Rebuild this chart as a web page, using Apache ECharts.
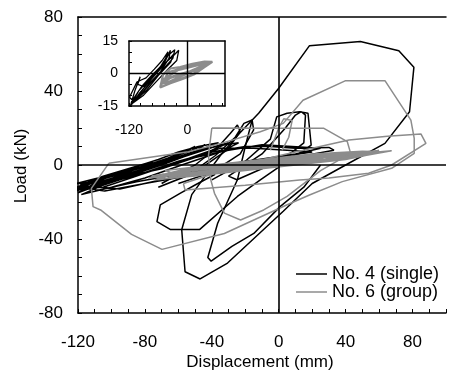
<!DOCTYPE html>
<html>
<head>
<meta charset="utf-8">
<script src="https://cdn.jsdelivr.net/npm/echarts@6/dist/echarts.min.js"></script>
<style>
  html, body { margin: 0; padding: 0; background: #fff; }
  #chart { width: 449px; height: 379px; }
</style>
</head>
<body>
<div id="chart"></div>
<script>
// values: displacement (mm), load (kN)
const xTicks = [-120, -80, -40, 0, 40, 80];
const yTicks = [-80, -40, 0, 40, 80];
const insetXTicks = [-120, 0];
const insetYTicks = [-15, 0, 15];
const names = ['No. 4 (single)', 'No. 6 (group)'];

// No. 4 (single) - black
const blackBand = [
  [-121,-14],[-105,-9],[-88,-4],[-70,1],[-55,6],[-45,9],[-52,6],[-70,0],[-90,-6],[-108,-11],[-120,-15],
  [-110,-10],[-92,-5],[-72,0],[-55,5],[-38,10],[-30,12],[-40,8],[-62,1],[-85,-6],[-105,-12],[-121,-13],
  [-103,-7],[-84,-2],[-65,3],[-48,8],[-32,11],[-24,12],[-35,7],[-58,0],[-80,-7],[-100,-12],[-118,-16],
  [-100,-9],[-80,-4],[-60,2],[-40,7],[-20,10],[-5,10],[10,9],[30,9.5],[33,8],[15,5],[-5,2],[-30,-2],[-55,-6],[-80,-10],[-104,-14],[-120,-12],
  [-100,-6],[-82,-1],[-62,5],[-50,10],[-58,6],[-78,-1],[-98,-8],[-116,-13],
  [-95,-8],[-75,-3],[-55,3],[-35,9],[-15,9],[5,8],[20,7],[5,5],[-20,2],[-45,-3],[-70,-8],[-95,-13],[-119,-11],
  [-105,-6],[-90,-2],[-75,2],[-85,-2],[-102,-8],[-121,-10],
  [-108,-7],[-92,-3],[-78,0],[-64,4],[-52,8],[-44,11],[-50,7],[-66,2],[-84,-4],[-100,-9],[-118,-13],
  [-112,-9],[-96,-4],[-80,-1],[-68,3],[-58,7],[-64,3],[-82,-3],[-97,-7],[-114,-12],[-121,-12],
  [-99,-5],[-86,-1],[-72,3],[-60,7],[-48,10],[-36,12],[-45,9],[-63,3],[-78,-2],[-95,-8],[-112,-13],
  [-90,-6],[-70,-2],[-50,4],[-30,8],[-10,11],[8,10],[25,9],[10,6],[-12,3],[-35,-1],[-60,-5],[-85,-9],[-110,-14]
];
const blackMid = [
  [-70,-10],[-50,0],[-36,10],[-29,17],[-24.7,21.6],[-23,18],[-31,8],[-50,-4],[-72,-12],
  [-55,-6],[-38,5],[-26,15],[-20.8,22.5],[-15.9,24.3],[-15,19],[-23,6],[-40,-4],[-60,-10]
];
const blackRight = [
  [-40,-8],[-20,2],[-5,14],[-1.2,26],[5,28],[12.5,28.8],[17.5,28],[19.4,10.8],[12,6],[-5,0],[-25,-8],
  [-30,-6],[-10,6],[4,20],[10,27],[13.5,28.8],[16,27],[15,12],[8,7],[-10,-2]
];
const blackBig = [
  [-58,-35],[-52,-16],[-44,-6],[-35,5],[-24.7,16],[-12,28],[0,41.5],[18.4,64.5],[48.8,66.7],[71.8,61.8],
  [80.8,52.8],[78.2,28.8],[63.5,11.7],[40,0],[20,-10],[2.7,-25],[-30.6,-53],[-47,-61.6],[-56,-57.7],[-58,-35]
];
const blackLoopA = [
  [5,2],[-11,-8],[-24.7,-17],[-47.2,-34.8],[-64.9,-34.8],[-72.8,-30.6],[-70.8,-21.6],[-59,-15.3],[-50,-10.8],[-38,-5]
];
const blackLoopB = [
  [-16,24],[-20,10],[-24.7,-8],[-36.5,-31.5],[-42.4,-50],[-40.4,-52],[-28,-44],[-14.9,-37],[0.8,-22.5],[15,-12],[25,0]
];

// No. 6 (group) - grey
const grayBand = [
  [-75,-6],[-50,-3],[-20,0],[10,3],[40,5.5],[67.5,7.7],[45,4],[15,1],[-15,-2],[-45,-5],[-72,-8],
  [-62,-4],[-35,-1],[-5,2],[25,4.5],[55,7],[30,3],[0,0],[-30,-3],[-58,-6],
  [-68,-3],[-40,0],[-10,3],[20,6],[50,7.5],[62,7.2],[35,3.5],[5,1],[-25,-2],[-55,-5],[-78,-7],
  [-55,-2],[-25,1],[5,4],[35,6],[58,6.5],[25,2],[-5,-1],[-40,-4],[-66,-7],
  [-45,-1],[-15,2],[15,5],[40,6.5],[20,3],[-10,0],[-40,-3],[-60,-5],
  [-70,-5],[-42,-2],[-12,1],[18,3.5],[48,6],[65,7.5],[40,3],[10,0],[-20,-3],[-50,-6],[-74,-8],
  [-58,-3],[-30,0],[0,3],[30,5.5],[60,7.8],[35,4.5],[8,2],[-22,-1],[-52,-4],[-76,-6],
  [-48,-2],[-18,1.5],[12,4.5],[42,7],[52,6.8],[28,3],[-2,0.5],[-32,-2.5],[-64,-6]
];
const grayBig = [
  [-101.6,0.9],[-112,-12.6],[-111,-22.5],[-106.5,-24.3],[-88,-37.5],[-69.8,-45.6],[-32.5,-37],[4.7,-21.6],
  [18.4,-16.2],[38,-9],[67.5,-1.8],[81,6.3],[81,14.4],[79,24.3],[63.5,45.6],[40,45.6],[14.5,35],
  [2.7,22.5],[-11,18],[-34.5,11.7],[-54,7.2],[-101.6,0.9]
];
const grayMid = [
  [-40,20],[-1.2,19.8],[27,19.8],[41,12.6],[43,6.3],[25,-3],[5,-17],[-9,-24.3],[-22.8,-29.7],
  [-32.5,-26],[-38.4,-15.3],[-40.6,-8.1],[-42,5],[-40,20]
];
const grayRight = [
  [-57,-10],[-30,-2],[0,5],[20,9],[42,13.5],[65,15.5],[85,16.8],[88,11.7],[67.5,0],[53.7,-4.5],
  [30,-7],[12.5,-8.1],[-20,-11],[-56,-13.5],[-57,-10]
];
const grayCurl = [
  [-5,8],[0,20],[3,25],[8,24],[6,15],[2,8]
];

// inset
const insetBlack = [
  [-118,-15],[-100,-8],[-80,-3],[-60,2],[-45,6],[-35,10.7],[-38,7],[-55,1],[-78,-5],[-100,-11],[-116,-14],
  [-108,-8],[-97,-1.5],[-102,-5],[-90,-6],[-70,-1],[-50,4],[-30,8],[-18,10.7],[-22,6],[-40,2],[-65,-4],
  [-90,-10],[-114,-14],[-100,-10],[-84,-5],[-64,0],[-44,5],[-28,9],[-35,5],[-60,-1],[-85,-8],[-110,-13],
  [-119,-11],[-104,-4],[-95,-3],[-85,-2],[-68,2],[-52,6],[-40,10],[-48,5],[-72,-2],[-98,-9],[-117,-15],
  [-112,-12],[-94,-6],[-74,-1],[-56,3],[-42,8],[-26,11],[-30,7],[-50,2],[-76,-4],[-104,-12]
];
const insetGray = [
  [-56,-6.5],[-35,-4.5],[-10,-2.5],[13,-0.5],[35,3],[51,5.4],[35,5.5],[10,4.5],[-15,3],[-35,2.3],[-50,-0.5],[-56,-6.5],
  [-48,-5.5],[-20,-3],[10,-0.5],[40,4],[20,4.5],[-10,2.5],[-40,0.5],[-50,-4],
  [-45,-4.5],[-15,-1.5],[15,1.5],[45,5],[15,3.5],[-20,1.5],[-45,-2],
  [-52,-3],[-25,-1],[5,1],[30,3.5],[48,5],[25,2],[-5,0],[-35,-2],[-54,-5]
];

const FONT = "'Liberation Sans', Arial, sans-serif";
const BLACK = '#000';
const GRAY = '#8c8c8c';

const chart = echarts.init(document.getElementById('chart'), null, { renderer: 'canvas' });

const tickFmt = list => v => (list.indexOf(v) >= 0 ? String(v) : '');

const lineSeries = (name, data, color, width, xi, yi) => ({
  name: name,
  type: 'line',
  xAxisIndex: xi,
  yAxisIndex: yi,
  data: data,
  symbol: 'none',
  animation: false,
  silent: true,
  lineStyle: { color: color, width: width },
  itemStyle: { color: color }
});

const zeroLines = (width) => ({
  silent: true,
  symbol: 'none',
  animation: false,
  label: { show: false },
  lineStyle: { color: BLACK, width: width, type: 'solid' },
  data: [{ xAxis: 0 }, { yAxis: 0 }]
});

const series = [];
[blackBand, blackMid, blackRight, blackBig, blackLoopA, blackLoopB].forEach(d => {
  series.push(lineSeries(names[0], d, BLACK, 1.5, 0, 0));
});
[grayBand, grayBig, grayMid, grayRight, grayCurl].forEach(d => {
  series.push(lineSeries(names[1], d, GRAY, 1.5, 0, 0));
});
series[0].markLine = zeroLines(1.6);
series.push(lineSeries('inset4', insetBlack, BLACK, 1.3, 2, 2));
series.push(lineSeries('inset6', insetGray, GRAY, 2.2, 2, 2));
series[series.length - 2].markLine = zeroLines(1.4);

const option = {
  animation: false,
  backgroundColor: '#fff',
  textStyle: { fontFamily: FONT },
  grid: [
    { left: 78, top: 17, width: 374, height: 296 },
    { left: 129, top: 41, width: 96, height: 65, show: true, backgroundColor: '#fff', borderWidth: 0 }
  ],
  legend: {
    data: names,
    orient: 'vertical',
    left: 291,
    top: 260,
    icon: 'rect',
    itemWidth: 31,
    itemHeight: 1.5,
    itemGap: 0,
    textStyle: { fontSize: 18, color: BLACK, fontFamily: FONT }
  },
  xAxis: [
    {
      gridIndex: 0, type: 'value', min: -120, max: 100, interval: 10,
      axisLine: { onZero: false, lineStyle: { color: BLACK, width: 1.5 } },
      axisTick: { inside: true, length: 4, lineStyle: { color: BLACK, width: 1 } },
      axisLabel: { formatter: tickFmt(xTicks), color: BLACK, fontSize: 17, margin: 21, fontFamily: FONT },
      splitLine: { show: false }
    },
    {
      gridIndex: 0, type: 'value', position: 'top', min: -120, max: 100,
      axisLine: { onZero: false, lineStyle: { color: BLACK, width: 1.5 } },
      axisTick: { show: false }, axisLabel: { show: false }, splitLine: { show: false }
    },
    {
      gridIndex: 1, type: 'value', min: -120, max: 77, interval: 24,
      axisLine: { onZero: false, lineStyle: { color: BLACK, width: 1.5 } },
      axisTick: { inside: true, length: 3, lineStyle: { color: BLACK, width: 1 } },
      axisLabel: { formatter: tickFmt(insetXTicks), color: BLACK, fontSize: 14, margin: 17, fontFamily: FONT, showMaxLabel: false },
      splitLine: { show: false }
    },
    {
      gridIndex: 1, type: 'value', position: 'top', min: -120, max: 77,
      axisLine: { onZero: false, lineStyle: { color: BLACK, width: 1.5 } },
      axisTick: { show: false }, axisLabel: { show: false }, splitLine: { show: false }
    }
  ],
  yAxis: [
    {
      gridIndex: 0, type: 'value', min: -80, max: 80, interval: 10,
      axisLine: { show: true, onZero: false, lineStyle: { color: BLACK, width: 1.5 } },
      axisTick: { show: true, inside: true, length: 4, lineStyle: { color: BLACK, width: 1 } },
      axisLabel: { formatter: tickFmt(yTicks), color: BLACK, fontSize: 17, margin: 15, fontFamily: FONT },
      splitLine: { show: false }
    },
    {
      gridIndex: 1, type: 'value', position: 'right', min: -15, max: 15,
      axisLine: { show: true, onZero: false, lineStyle: { color: BLACK, width: 1.5 } },
      axisTick: { show: false }, axisLabel: { show: false }, splitLine: { show: false }
    },
    {
      gridIndex: 1, type: 'value', position: 'left', min: -15, max: 15, interval: 5,
      axisLine: { show: true, onZero: false, lineStyle: { color: BLACK, width: 1.5 } },
      axisTick: { show: true, inside: true, length: 3, lineStyle: { color: BLACK, width: 1 } },
      axisLabel: { formatter: tickFmt(insetYTicks), color: BLACK, fontSize: 14, margin: 11, fontFamily: FONT },
      splitLine: { show: false }
    }
  ],
  graphic: [
    {
      type: 'text', x: 260, y: 362,
      style: { text: 'Displacement (mm)', fontSize: 17, fill: BLACK, fontFamily: FONT, align: 'center', verticalAlign: 'middle' }
    },
    {
      type: 'text', x: 21, y: 166, rotation: Math.PI / 2,
      style: { text: 'Load (kN)', fontSize: 17, fill: BLACK, fontFamily: FONT, align: 'center', verticalAlign: 'middle' }
    }
  ],
  series: series
};

chart.setOption(option);
</script>
</body>
</html>
